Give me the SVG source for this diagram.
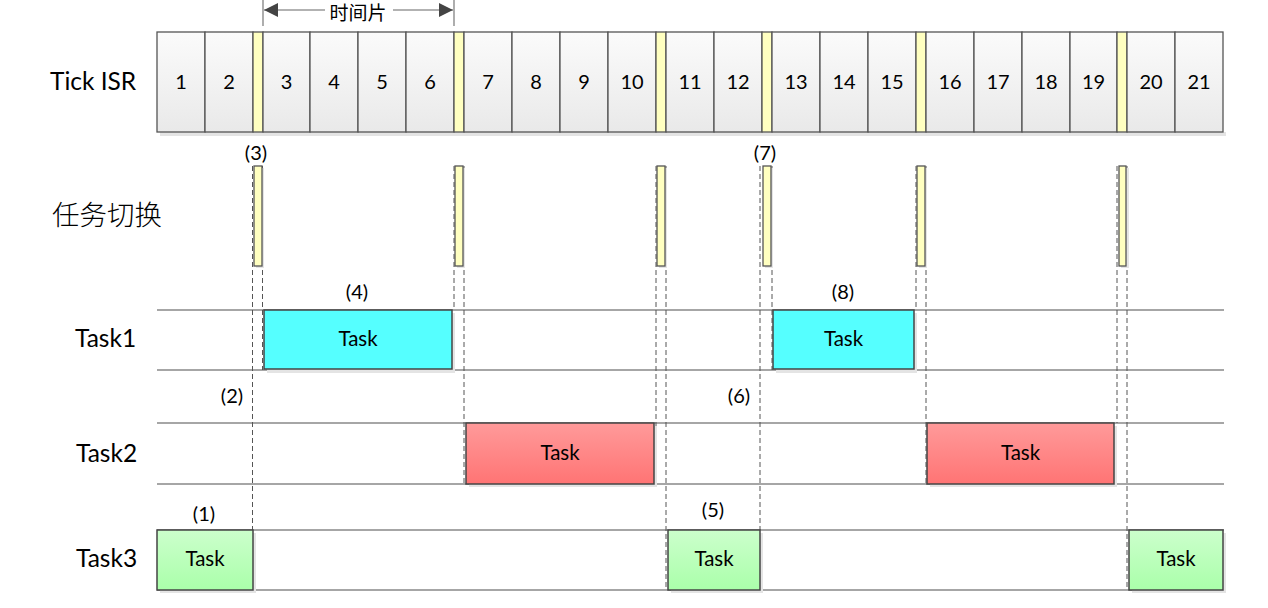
<svg xmlns="http://www.w3.org/2000/svg" width="1268" height="608" viewBox="0 0 1268 608">
<defs>
<linearGradient id="gCell" x1="0" y1="0" x2="0" y2="1"><stop offset="0" stop-color="#fbfbfb"/><stop offset="1" stop-color="#e9e9e9"/></linearGradient>
<linearGradient id="gRed" x1="0" y1="0" x2="0" y2="1"><stop offset="0" stop-color="#ff9a9a"/><stop offset="1" stop-color="#ff7474"/></linearGradient>
<linearGradient id="gGreen" x1="0" y1="0" x2="0" y2="1"><stop offset="0" stop-color="#ccffcc"/><stop offset="1" stop-color="#aaffaa"/></linearGradient>
<marker id="ah" viewBox="0 0 10 10" refX="10" refY="5" markerWidth="14" markerHeight="14" markerUnits="userSpaceOnUse" orient="auto-start-reverse"><path d="M0,0 L10,5 L0,10 z" fill="#444"/></marker>
</defs>
<style>
.cell{fill:url(#gCell);stroke:#555;stroke-width:1.3}
.yel{fill:#ffffc0;stroke:#555;stroke-width:1.3}
.shadow{fill:#e4e4e4}
.num{font-family:Lato,"Open Sans",sans-serif;font-size:20px;fill:#000;text-anchor:middle}
.lbl{font-family:Lato,"Open Sans",sans-serif;font-size:24.5px;fill:#000}
.cn{font-family:"Noto Sans CJK SC",sans-serif;font-size:27.5px;font-weight:300;fill:#000}
.small{font-family:Lato,"Open Sans",sans-serif;font-size:20px;fill:#000;text-anchor:middle}
.task{font-family:Lato,"Open Sans",sans-serif;font-size:20.5px;fill:#000;text-anchor:middle}
.hl{stroke:#888;stroke-width:1.3}
.dash{stroke:#555;stroke-width:1;stroke-dasharray:5,3;fill:none}
.box{stroke:#444;stroke-width:1.5}
</style>

<g id="timeslice">
<line x1="263" y1="0" x2="263" y2="26" stroke="#777" stroke-width="1.2"/>
<line x1="454" y1="0" x2="454" y2="26" stroke="#777" stroke-width="1.2"/>
<line x1="325" y1="10" x2="264" y2="10" stroke="#666" stroke-width="1.2" marker-end="url(#ah)"/>
<line x1="393" y1="10" x2="453" y2="10" stroke="#666" stroke-width="1.2" marker-end="url(#ah)"/>
<text x="358" y="20" class="cn" style="font-size:19px;font-weight:400" text-anchor="middle">时间片</text>
</g>

<g id="labels">
<text x="50" y="90" class="lbl">Tick ISR</text>
<text x="52" y="225" class="cn">任务切换</text>
<text x="75" y="347" class="lbl">Task1</text>
<text x="76" y="462" class="lbl">Task2</text>
<text x="76" y="567" class="lbl">Task3</text>
</g>

<g id="tick-isr">
<rect x="160" y="132" width="1066" height="4" class="shadow"/>
<rect x="157" y="32" width="48" height="100" class="cell"/><text x="181" y="89" class="num">1</text>
<rect x="205" y="32" width="48" height="100" class="cell"/><text x="229" y="89" class="num">2</text>
<rect x="253" y="32" width="10" height="100" class="yel"/>
<rect x="263" y="32" width="47" height="100" class="cell"/><text x="286.5" y="89" class="num">3</text>
<rect x="310" y="32" width="48" height="100" class="cell"/><text x="334" y="89" class="num">4</text>
<rect x="358" y="32" width="48" height="100" class="cell"/><text x="382" y="89" class="num">5</text>
<rect x="406" y="32" width="48" height="100" class="cell"/><text x="430" y="89" class="num">6</text>
<rect x="454" y="32" width="10" height="100" class="yel"/>
<rect x="464" y="32" width="48" height="100" class="cell"/><text x="488" y="89" class="num">7</text>
<rect x="512" y="32" width="48" height="100" class="cell"/><text x="536" y="89" class="num">8</text>
<rect x="560" y="32" width="48" height="100" class="cell"/><text x="584" y="89" class="num">9</text>
<rect x="608" y="32" width="48" height="100" class="cell"/><text x="632" y="89" class="num">10</text>
<rect x="656" y="32" width="10" height="100" class="yel"/>
<rect x="666" y="32" width="48" height="100" class="cell"/><text x="690" y="89" class="num">11</text>
<rect x="714" y="32" width="48" height="100" class="cell"/><text x="738" y="89" class="num">12</text>
<rect x="762" y="32" width="10" height="100" class="yel"/>
<rect x="772" y="32" width="48" height="100" class="cell"/><text x="796" y="89" class="num">13</text>
<rect x="820" y="32" width="48" height="100" class="cell"/><text x="844" y="89" class="num">14</text>
<rect x="868" y="32" width="48" height="100" class="cell"/><text x="892" y="89" class="num">15</text>
<rect x="916" y="32" width="10" height="100" class="yel"/>
<rect x="926" y="32" width="48" height="100" class="cell"/><text x="950" y="89" class="num">16</text>
<rect x="974" y="32" width="48" height="100" class="cell"/><text x="998" y="89" class="num">17</text>
<rect x="1022" y="32" width="48" height="100" class="cell"/><text x="1046" y="89" class="num">18</text>
<rect x="1070" y="32" width="47" height="100" class="cell"/><text x="1093.5" y="89" class="num">19</text>
<rect x="1117" y="32" width="10" height="100" class="yel"/>
<rect x="1127" y="32" width="48" height="100" class="cell"/><text x="1151" y="89" class="num">20</text>
<rect x="1175" y="32" width="48" height="100" class="cell"/><text x="1199" y="89" class="num">21</text>
</g>

<g id="row-lines">
<line x1="157" y1="310" x2="1224" y2="310" class="hl"/>
<line x1="157" y1="370" x2="1224" y2="370" class="hl"/>
<line x1="157" y1="423" x2="1224" y2="423" class="hl"/>
<line x1="157" y1="484" x2="1224" y2="484" class="hl"/>
<line x1="157" y1="530" x2="1224" y2="530" class="hl"/>
<line x1="157" y1="590" x2="1224" y2="590" class="hl"/>
</g>

<g id="connectors">
<line x1="252.5" y1="166" x2="252.5" y2="530" class="dash"/>
<line x1="262.5" y1="166" x2="262.5" y2="370" class="dash"/>
<line x1="454" y1="166" x2="454" y2="310" class="dash"/>
<line x1="464" y1="166" x2="464" y2="484" class="dash"/>
<line x1="656" y1="166" x2="656" y2="484" class="dash"/>
<line x1="666" y1="166" x2="666" y2="590" class="dash"/>
<line x1="760" y1="166" x2="760" y2="530" class="dash"/>
<line x1="772" y1="166" x2="772" y2="370" class="dash"/>
<line x1="916" y1="166" x2="916" y2="310" class="dash"/>
<line x1="926" y1="166" x2="926" y2="484" class="dash"/>
<line x1="1117" y1="166" x2="1117" y2="423" class="dash"/>
<line x1="1127" y1="166" x2="1127" y2="590" class="dash"/>
</g>

<g id="switch-bars">
<rect x="256" y="168" width="8" height="100" class="shadow"/><rect x="254" y="166" width="8" height="100" class="yel"/>
<rect x="457" y="168" width="8" height="100" class="shadow"/><rect x="455" y="166" width="8" height="100" class="yel"/>
<rect x="659" y="168" width="8" height="100" class="shadow"/><rect x="657" y="166" width="8" height="100" class="yel"/>
<rect x="765" y="168" width="8" height="100" class="shadow"/><rect x="763" y="166" width="8" height="100" class="yel"/>
<rect x="919" y="168" width="8" height="100" class="shadow"/><rect x="917" y="166" width="8" height="100" class="yel"/>
<rect x="1121" y="168" width="8" height="100" class="shadow"/><rect x="1119" y="166" width="7" height="100" class="yel"/>
</g>

<g id="marks">
<text x="256" y="160" class="small">(3)</text>
<text x="765" y="160" class="small">(7)</text>
<text x="357" y="299" class="small">(4)</text>
<text x="843" y="299" class="small">(8)</text>
<text x="232" y="403" class="small">(2)</text>
<text x="739" y="403" class="small">(6)</text>
<text x="204" y="521" class="small">(1)</text>
<text x="713" y="517" class="small">(5)</text>
</g>

<g id="task1-a"><rect x="267" y="313" width="188" height="60" class="shadow"/><rect x="264" y="310" width="188" height="59" fill="#55ffff" class="box"/><text x="358" y="346" class="task">Task</text></g>
<g id="task1-b"><rect x="776" y="313" width="141" height="60" class="shadow"/><rect x="773" y="310" width="141" height="59" fill="#55ffff" class="box"/><text x="843.5" y="346" class="task">Task</text></g>
<g id="task2-a"><rect x="469" y="426" width="188" height="61" class="shadow"/><rect x="466" y="423" width="188" height="61" fill="url(#gRed)" class="box"/><text x="560" y="460" class="task">Task</text></g>
<g id="task2-b"><rect x="930" y="426" width="187" height="61" class="shadow"/><rect x="927" y="423" width="187" height="61" fill="url(#gRed)" class="box"/><text x="1020.5" y="460" class="task">Task</text></g>
<g id="task3-a"><rect x="160" y="533" width="96" height="60" class="shadow"/><rect x="157" y="530" width="96" height="60" fill="url(#gGreen)" class="box"/><text x="205" y="566" class="task">Task</text></g>
<g id="task3-b"><rect x="671" y="533" width="92" height="60" class="shadow"/><rect x="668" y="530" width="92" height="60" fill="url(#gGreen)" class="box"/><text x="714" y="566" class="task">Task</text></g>
<g id="task3-c"><rect x="1132" y="533" width="94" height="60" class="shadow"/><rect x="1129" y="530" width="94" height="60" fill="url(#gGreen)" class="box"/><text x="1176" y="566" class="task">Task</text></g>
</svg>
